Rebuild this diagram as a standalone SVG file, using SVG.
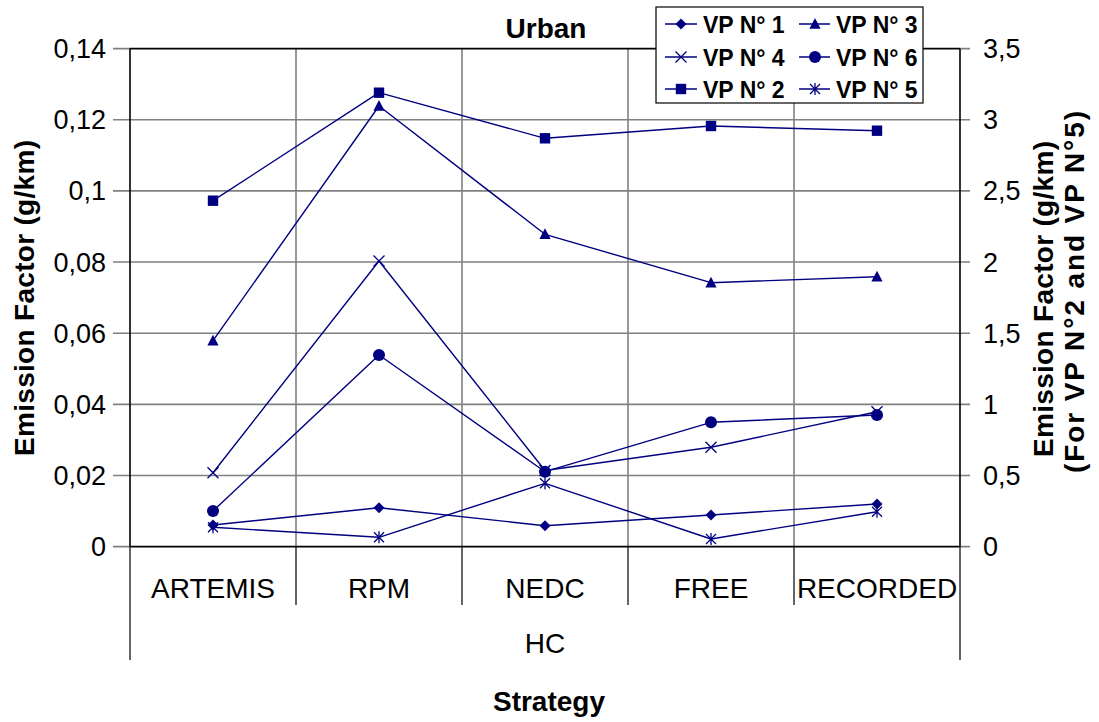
<svg xmlns="http://www.w3.org/2000/svg" width="1099" height="722" viewBox="0 0 1099 722">
  <style>
    text { font-family: "Liberation Sans", Arial, sans-serif; fill: #000; }
    .tick { font-size: 27px; }
    .cat { font-size: 28px; text-anchor: middle; }
    .title { font-size: 28px; font-weight: bold; text-anchor: middle; }
    .leg { font-size: 23px; font-weight: bold; }
    .grid { stroke: #808080; stroke-width: 1.6; fill: none; }
    .axis { stroke: #000; stroke-width: 1.6; fill: none; }
    .sep { stroke: #000; stroke-width: 1.2; fill: none; }
    .series { stroke: #000080; stroke-width: 1.4; fill: none; stroke-linejoin: round; }
    .mk { fill: #000080; stroke: none; }
    .mks { fill: none; stroke: #000080; stroke-width: 1.3; }
  </style>
  <defs>
    <polygon id="m-diamond" class="mk" points="0,-5.5 5.5,0 0,5.5 -5.5,0"/>
    <rect id="m-square" class="mk" x="-5.2" y="-5.2" width="10.4" height="10.4"/>
    <polygon id="m-triangle" class="mk" points="0,-6 5.6,4.8 -5.6,4.8"/>
    <circle id="m-circle" class="mk" r="6"/>
    <path id="m-x" class="mks" d="M-5.5,-5.5 L5.5,5.5 M-5.5,5.5 L5.5,-5.5"/>
    <path id="m-star" class="mks" d="M-5,-5 L5,5 M-5,5 L5,-5 M0,-6 L0,6"/>
  </defs>

  <rect width="1099" height="722" fill="#fff"/>

  <!-- gridlines and ticks -->
  <g id="grid">
    <path class="grid" d="M113,119.75 H970 M113,190.9 H970 M113,262.05 H970 M113,333.2 H970 M113,404.35 H970 M113,475.5 H970 M113,48.6 H130 M960,48.6 H970 M113,546.65 H130 M960,546.65 H970"/>
    <path class="grid" d="M296,48.6 V546.65 M462,48.6 V546.65 M628,48.6 V546.65 M794,48.6 V546.65"/>
  </g>

  <!-- plot frame -->
  <g id="axes">
    <path class="axis" d="M130,48.6 V546.65 M960,48.6 V546.65 M130,546.65 H960"/>
    <path class="axis" stroke-width="2.2" d="M130,48.6 H960"/>
    <path class="sep" d="M296,546.65 V605 M462,546.65 V605 M628,546.65 V605 M794,546.65 V605 M130,546.65 V660 M960,546.65 V660"/>
  </g>

  <!-- left axis labels -->
  <g id="left-axis">
    <text class="tick" x="106" y="58" text-anchor="end">0,14</text>
    <text class="tick" x="106" y="129.2" text-anchor="end">0,12</text>
    <text class="tick" x="106" y="200.4" text-anchor="end">0,1</text>
    <text class="tick" x="106" y="271.5" text-anchor="end">0,08</text>
    <text class="tick" x="106" y="342.7" text-anchor="end">0,06</text>
    <text class="tick" x="106" y="413.8" text-anchor="end">0,04</text>
    <text class="tick" x="106" y="485" text-anchor="end">0,02</text>
    <text class="tick" x="106" y="556.1" text-anchor="end">0</text>
    <text class="title" transform="translate(34,298) rotate(-90)" textLength="316">Emission Factor (g/km)</text>
  </g>

  <!-- right axis labels -->
  <g id="right-axis">
    <text class="tick" x="983" y="58">3,5</text>
    <text class="tick" x="983" y="129.2">3</text>
    <text class="tick" x="983" y="200.4">2,5</text>
    <text class="tick" x="983" y="271.5">2</text>
    <text class="tick" x="983" y="342.7">1,5</text>
    <text class="tick" x="983" y="413.8">1</text>
    <text class="tick" x="983" y="485">0,5</text>
    <text class="tick" x="983" y="556.1">0</text>
    <text class="title" transform="translate(1053,299) rotate(-90)" textLength="316">Emission Factor (g/km)</text>
    <text class="title" transform="translate(1084,292) rotate(-90)" textLength="362">(For VP N°2 and VP N°5)</text>
  </g>

  <!-- category axis -->
  <g id="categories">
    <text class="cat" x="213" y="598">ARTEMIS</text>
    <text class="cat" x="379" y="598">RPM</text>
    <text class="cat" x="545" y="598">NEDC</text>
    <text class="cat" x="711" y="598">FREE</text>
    <text class="cat" x="877" y="598">RECORDED</text>
    <text class="cat" x="545" y="653">HC</text>
    <text class="title" x="549" y="711">Strategy</text>
  </g>

  <text id="chart-title" class="title" x="546" y="38" font-size="27">Urban</text>

  <!-- data series -->
  <g id="connectors">
    <polyline id="line-vp2" class="series" points="213,200.7 379,92.7 545,138.3 711,126 877,130.7"/>
    <polyline id="line-vp3" class="series" points="213,340.7 379,106 545,234.3 711,282.7 877,276.7"/>
    <polyline id="line-vp4" class="series" points="213,472.7 379,261 545,470.5 711,447.3 877,411.7"/>
    <polyline id="line-vp6" class="series" points="213,511 379,355 545,471.7 711,422.3 877,415"/>
    <polyline id="line-vp1" class="series" points="213,525 379,507.7 545,525.7 711,515 877,504"/>
    <polyline id="line-vp5" class="series" points="213,527.3 379,537.3 545,483.3 711,539 877,511.7"/>
  </g>

  <g id="vp2-points">
    <use href="#m-square" x="213" y="200.7"/><use href="#m-square" x="379" y="92.7"/><use href="#m-square" x="545" y="138.3"/><use href="#m-square" x="711" y="126"/><use href="#m-square" x="877" y="130.7"/>
  </g>
  <g id="vp3-points">
    <use href="#m-triangle" x="213" y="340.7"/><use href="#m-triangle" x="379" y="106"/><use href="#m-triangle" x="545" y="234.3"/><use href="#m-triangle" x="711" y="282.7"/><use href="#m-triangle" x="877" y="276.7"/>
  </g>
  <g id="vp4-points">
    <use href="#m-x" x="213" y="472.7"/><use href="#m-x" x="379" y="261"/><use href="#m-x" x="545" y="470.5"/><use href="#m-x" x="711" y="447.3"/><use href="#m-x" x="877" y="411.7"/>
  </g>
  <g id="vp6-points">
    <use href="#m-circle" x="213" y="511"/><use href="#m-circle" x="379" y="355"/><use href="#m-circle" x="545" y="471.7"/><use href="#m-circle" x="711" y="422.3"/><use href="#m-circle" x="877" y="415"/>
  </g>
  <g id="vp1-points">
    <use href="#m-diamond" x="213" y="525"/><use href="#m-diamond" x="379" y="507.7"/><use href="#m-diamond" x="545" y="525.7"/><use href="#m-diamond" x="711" y="515"/><use href="#m-diamond" x="877" y="504"/>
  </g>
  <g id="vp5-points">
    <use href="#m-star" x="213" y="527.3"/><use href="#m-star" x="379" y="537.3"/><use href="#m-star" x="545" y="483.3"/><use href="#m-star" x="711" y="539"/><use href="#m-star" x="877" y="511.7"/>
  </g>

  <!-- legend -->
  <g id="legend">
    <rect x="656" y="7" width="267" height="96" fill="#fff" stroke="#000" stroke-width="1.2"/>
    <path class="series" d="M665,24 H697 M799,24 H830 M665,57 H697 M799,57 H830 M665,89 H697 M799,89 H830"/>
    <use href="#m-diamond" x="681" y="24"/>
    <use href="#m-triangle" x="815" y="24"/>
    <use href="#m-x" x="681" y="57"/>
    <use href="#m-circle" x="815" y="57"/>
    <use href="#m-square" x="681" y="89"/>
    <use href="#m-star" x="815" y="89"/>
    <text class="leg" x="703" y="33">VP N° 1</text>
    <text class="leg" x="836" y="33">VP N° 3</text>
    <text class="leg" x="703" y="66">VP N° 4</text>
    <text class="leg" x="836" y="66">VP N° 6</text>
    <text class="leg" x="703" y="98">VP N° 2</text>
    <text class="leg" x="836" y="98">VP N° 5</text>
  </g>
</svg>
